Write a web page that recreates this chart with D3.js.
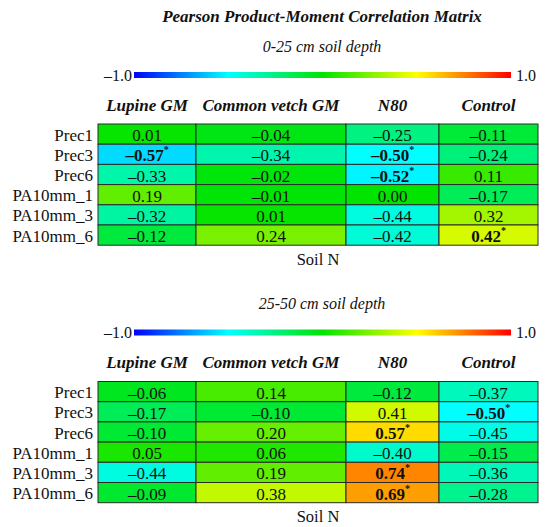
<!DOCTYPE html>
<html>
<head>
<meta charset="utf-8">
<script src="https://cdn.jsdelivr.net/npm/d3@7"></script>
<style>
  body { margin: 0; background: #fff; }
  svg text { font-family: 'Liberation Serif', 'Times New Roman', Times, serif; fill: #111; }
</style>
</head>
<body>
<svg id="chart" width="550" height="527"></svg>
<script>
// data
const ROWS = ["Prec1", "Prec3", "Prec6", "PA10mm_1", "PA10mm_3", "PA10mm_6"];
const COLS = ["Lupine GM", "Common vetch GM", "N80", "Control"];

const depth1Values = [
    [0.01, -0.04, -0.25, -0.11],
    [-0.57, -0.34, -0.50, -0.24],
    [-0.33, -0.02, -0.52, 0.11],
    [0.19, -0.01, 0.00, -0.17],
    [-0.32, 0.01, -0.44, 0.32],
    [-0.12, 0.24, -0.42, 0.42]
];
const depth1Signif = [
    [0, 0, 0, 0],
    [1, 0, 1, 0],
    [0, 0, 1, 0],
    [0, 0, 0, 0],
    [0, 0, 0, 0],
    [0, 0, 0, 1]
];

const depth2Values = [
    [-0.06, 0.14, -0.12, -0.37],
    [-0.17, -0.10, 0.41, -0.50],
    [-0.10, 0.20, 0.57, -0.45],
    [0.05, 0.06, -0.40, -0.15],
    [-0.44, 0.19, 0.74, -0.36],
    [-0.09, 0.38, 0.69, -0.28]
];
const depth2Signif = [
    [0, 0, 0, 0],
    [0, 0, 0, 1],
    [0, 0, 1, 0],
    [0, 0, 0, 0],
    [0, 0, 1, 0],
    [0, 0, 1, 0]
];

const TITLE = "Pearson Product-Moment Correlation Matrix";
const SUBTITLES = ["0-25 cm soil depth", "25-50 cm soil depth"];
const XLABEL = "Soil N";
const SCALE_TICKS = [-1.0, 1.0];

// layout
const TABLE_LEFT = 98, TABLE_RIGHT = 538;
const COL_WEIGHTS = [98, 150, 93, 99];
const ROW_H = 20.2;
const PANEL_OFFSET = 257.5;
const CENTER_X = 322;

const color = d3.scaleLinear()
    .domain([-1, -0.5, 0, 0.5, 1])
    .range(["#0000ff", "#00ffff", "#00e400", "#ffff00", "#ff0000"])
    .clamp(true);

const fmt = v => d3.format(".2f")(v).replace("−", "–").replace("-", "–");
const fmt1 = v => d3.format(".1f")(v).replace("−", "–").replace("-", "–");

const svg = d3.select("#chart");

svg.append("text")
    .attr("x", CENTER_X)
    .attr("y", 16)
    .attr("text-anchor", "middle")
    .attr("dominant-baseline", "central")
    .style("font-size", "17px")
    .style("font-weight", "bold")
    .style("font-style", "italic")
    .text(TITLE);

// gradient for the colour bar
const defs = svg.append("defs");
const grad = defs.append("linearGradient").attr("id", "jet");
color.domain().forEach(d => {
    grad.append("stop")
        .attr("offset", ((d + 1) / 2 * 100) + "%")
        .attr("stop-color", color(d));
});

// cumulative column edges
const colEdge = d3.scaleLinear()
    .domain([0, d3.sum(COL_WEIGHTS)])
    .range([TABLE_LEFT, TABLE_RIGHT]);
const cum = [0];
COL_WEIGHTS.forEach((w, i) => cum.push(cum[i] + w));

function drawPanel(top, subtitle, values, signif) {
    const g = svg.append("g").attr("transform", "translate(0," + top + ")");

    g.append("text")
        .attr("x", CENTER_X)
        .attr("y", 46)
        .attr("text-anchor", "middle")
        .attr("dominant-baseline", "central")
        .style("font-size", "16px")
        .style("font-style", "italic")
        .text(subtitle);

    // colour bar
    const bx = d3.scaleLinear().domain(SCALE_TICKS).range([134, 511]);
    g.append("rect")
        .attr("x", bx(-1))
        .attr("y", 72)
        .attr("width", bx(1) - bx(-1))
        .attr("height", 6)
        .attr("fill", "url(#jet)");

    g.selectAll(".tick-lab")
        .data(SCALE_TICKS)
        .enter()
        .append("text")
        .attr("x", d => d < 0 ? bx(d) - 2 : bx(d) + 5)
        .attr("y", 75)
        .attr("text-anchor", d => d < 0 ? "end" : "start")
        .attr("dominant-baseline", "central")
        .style("font-size", "16px")
        .text(fmt1);

    const y = d3.scaleBand()
        .domain(ROWS)
        .range([124, 124 + ROW_H * ROWS.length]);

    // column headers
    g.selectAll(".col-head")
        .data(COLS)
        .enter()
        .append("text")
        .attr("x", (d, i) => (colEdge(cum[i]) + colEdge(cum[i + 1])) / 2)
        .attr("y", 105)
        .attr("text-anchor", "middle")
        .attr("dominant-baseline", "central")
        .style("font-size", "17px")
        .style("font-weight", "bold")
        .style("font-style", "italic")
        .text(d => d);

    // row labels
    g.selectAll(".row-lab")
        .data(ROWS)
        .enter()
        .append("text")
        .attr("x", TABLE_LEFT - 5)
        .attr("y", d => y(d) + y.bandwidth() / 2 + 1)
        .attr("text-anchor", "end")
        .attr("dominant-baseline", "central")
        .style("font-size", "17px")
        .text(d => d);

    const cells = [];
    values.forEach((row, r) => row.forEach((v, c) => {
        cells.push({ row: ROWS[r], col: c, v: v, sig: signif[r][c] });
    }));

    g.selectAll(".cell")
        .data(cells)
        .enter()
        .append("rect")
        .attr("x", d => colEdge(cum[d.col]))
        .attr("y", d => y(d.row))
        .attr("width", d => colEdge(cum[d.col + 1]) - colEdge(cum[d.col]))
        .attr("height", y.bandwidth())
        .attr("fill", d => color(d.v))
        .attr("stroke", "#2a2a2a")
        .attr("stroke-width", 1);

    const labels = g.selectAll(".cell-lab")
        .data(cells)
        .enter()
        .append("text")
        .attr("x", d => (colEdge(cum[d.col]) + colEdge(cum[d.col + 1])) / 2)
        .attr("y", d => y(d.row) + y.bandwidth() / 2 + 1)
        .attr("text-anchor", "middle")
        .attr("dominant-baseline", "central")
        .style("font-size", "17px")
        .style("font-weight", d => d.sig ? "bold" : "normal");

    labels.append("tspan").text(d => fmt(d.v));
    labels.filter(d => d.sig)
        .append("tspan")
        .attr("dy", -6)
        .style("font-size", "10px")
        .text("*");

    g.append("text")
        .attr("x", (TABLE_LEFT + TABLE_RIGHT) / 2)
        .attr("y", 259)
        .attr("text-anchor", "middle")
        .attr("dominant-baseline", "central")
        .style("font-size", "16.5px")
        .text(XLABEL);
}

drawPanel(0, SUBTITLES[0], depth1Values, depth1Signif);
drawPanel(PANEL_OFFSET, SUBTITLES[1], depth2Values, depth2Signif);
</script>
</body>
</html>
